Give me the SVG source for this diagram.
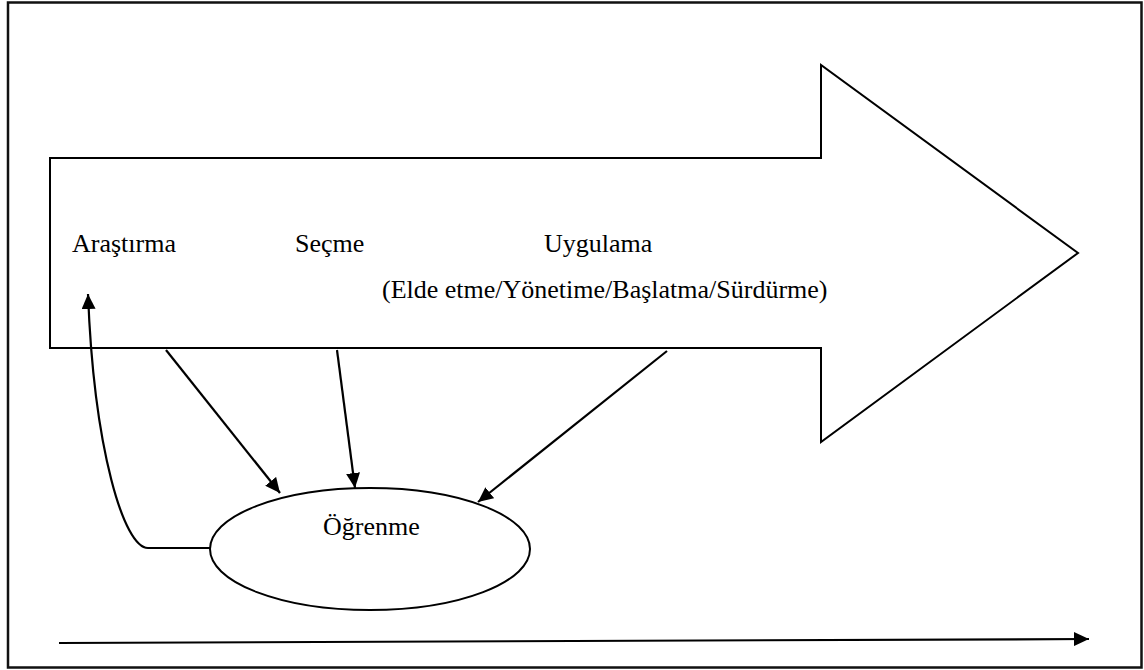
<svg xmlns="http://www.w3.org/2000/svg" width="1144" height="670" viewBox="0 0 1144 670">
<defs>
<style>
.ln{fill:none;stroke:#000;stroke-width:2.2}
.sh{fill:#fff;stroke:#000;stroke-width:2}
.tx{font-family:"Liberation Serif","Times New Roman",serif;font-size:26px;fill:#000}
</style>
<marker id="ah" markerUnits="userSpaceOnUse" markerWidth="16" markerHeight="14" refX="15" refY="7" orient="auto">
<path d="M0,0 L15,7 L0,14 z" fill="#000"/>
</marker>
</defs>
<rect width="1144" height="670" fill="#fff"/>
<rect id="frame" x="8" y="2.5" width="1133.5" height="665" fill="none" stroke="#111" stroke-width="2.5"/>
<g id="process-arrow">
<polygon class="sh" points="50,158 821,158 821,65 1078,253 821,442 821,348 50,348"/>
<text class="tx" x="72" y="252">Araştırma</text>
<text class="tx" x="295" y="252">Seçme</text>
<text class="tx" x="544" y="252">Uygulama</text>
<text class="tx" x="382" y="298">(Elde etme/Yönetime/Başlatma/Sürdürme)</text>
</g>
<g id="learning">
<ellipse class="sh" cx="370" cy="549" rx="160" ry="61"/>
<text class="tx" x="323" y="535">Öğrenme</text>
</g>
<g id="connectors">
<line class="ln" x1="166" y1="350" x2="280" y2="493" marker-end="url(#ah)"/>
<line class="ln" x1="337" y1="350" x2="355" y2="488" marker-end="url(#ah)"/>
<line class="ln" x1="667" y1="351" x2="478" y2="502" marker-end="url(#ah)"/>
<path class="ln" d="M210,548 H148 C124,548 94,450 88,294" marker-end="url(#ah)"/>
<line class="ln" x1="59" y1="643" x2="1089" y2="639" marker-end="url(#ah)"/>
</g>
</svg>
